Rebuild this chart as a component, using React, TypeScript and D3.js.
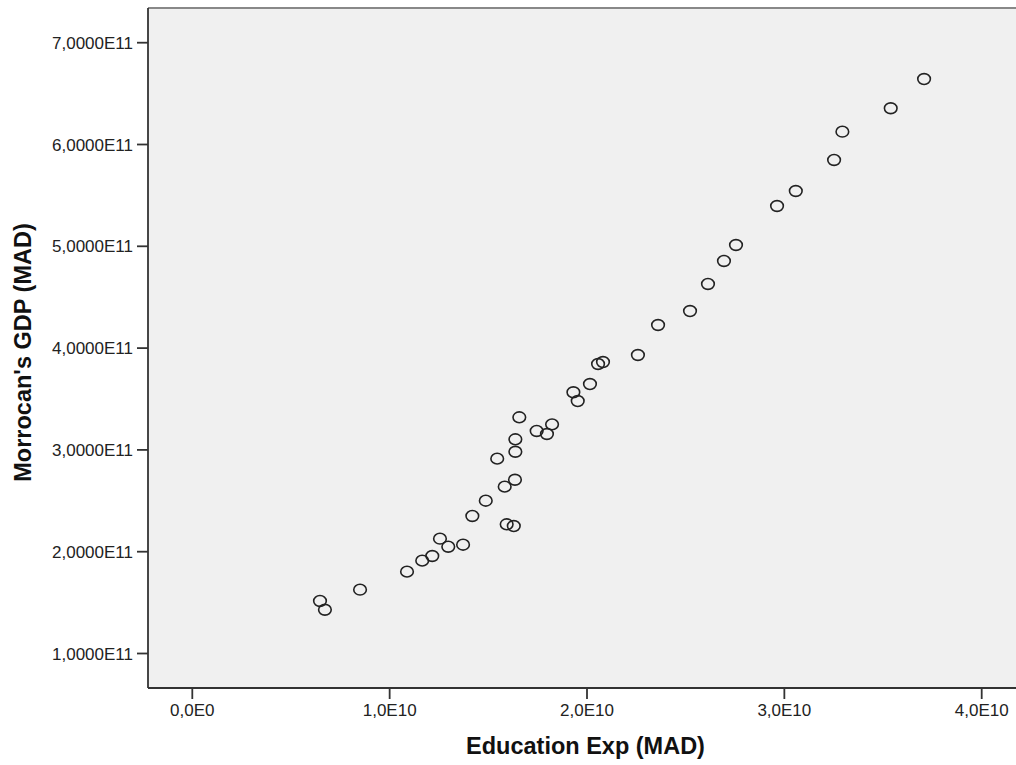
import React from "react";
import * as d3 from "d3";

const eduExp: number[] = [
  3.708, 3.539, 3.294, 3.252, 3.058, 2.963, 2.755, 2.694, 2.613, 2.522,
  2.360, 2.258, 2.081, 2.056, 2.015, 1.931, 1.953, 1.657, 1.823, 1.745,
  1.797, 1.637, 1.637, 1.545, 1.635, 1.583, 1.487, 1.419, 1.593, 1.629,
  1.255, 1.297, 1.372, 1.216, 1.165, 1.088, 0.850, 0.647, 0.672,
].map((v) => v * 1e10);

const gdp: number[] = [
  6.643, 6.356, 6.126, 5.848, 5.543, 5.396, 5.013, 4.856, 4.630, 4.364,
  4.227, 3.932, 3.863, 3.844, 3.647, 3.566, 3.480, 3.320, 3.251, 3.186,
  3.156, 3.104, 2.982, 2.914, 2.707, 2.639, 2.501, 2.351, 2.269, 2.252,
  2.128, 2.049, 2.069, 1.958, 1.912, 1.804, 1.627, 1.516, 1.430,
].map((v) => v * 1e11);

const xTicks: number[] = [0, 1e10, 2e10, 3e10, 4e10];
const xTickLabels: string[] = ["0,0E0", "1,0E10", "2,0E10", "3,0E10", "4,0E10"];
const yTicks: number[] = [1e11, 2e11, 3e11, 4e11, 5e11, 6e11, 7e11];
const yTickLabels: string[] = [
  "1,0000E11", "2,0000E11", "3,0000E11", "4,0000E11", "5,0000E11", "6,0000E11", "7,0000E11",
];

const xTitle = "Education Exp (MAD)";
const yTitle = "Morrocan's GDP (MAD)";

export default function App() {
  const W = 1016;
  const H = 765;
  const left = 148;
  const top = 8;
  const bottom = 688;
  const right = 1020;

  const x = d3.scaleLinear().domain([0, 4e10]).range([192.3, 981.7]);
  const y = d3.scaleLinear().domain([1e11, 7e11]).range([653.5, 42.7]);

  const font = "Arial, 'Liberation Sans', sans-serif";

  return (
    <svg
      width={W}
      height={H}
      style={{ position: "absolute", left: 0, top: 0, background: "#fff" }}
    >
      <rect x={left} y={top} width={right - left} height={bottom - top} fill="#f0f0f0" />
      <line x1={left} x2={right} y1={top} y2={top} stroke="#888" strokeWidth={2} />
      <line x1={left} x2={left} y1={top} y2={bottom} stroke="#333" strokeWidth={1.8} />
      <line x1={left} x2={right} y1={bottom} y2={bottom} stroke="#333" strokeWidth={1.8} />

      {yTicks.map((t, i) => (
        <g key={"y" + i}>
          <line x1={left - 11} x2={left} y1={y(t)} y2={y(t)} stroke="#333" strokeWidth={1.8} />
          <text
            x={left - 15}
            y={y(t)}
            dy="0.36em"
            textAnchor="end"
            fontFamily={font}
            fontSize={17}
            fill="#222"
          >
            {yTickLabels[i]}
          </text>
        </g>
      ))}

      {xTicks.map((t, i) => (
        <g key={"x" + i}>
          <line x1={x(t)} x2={x(t)} y1={bottom} y2={bottom + 11} stroke="#333" strokeWidth={1.8} />
          <text
            x={x(t)}
            y={716}
            textAnchor="middle"
            fontFamily={font}
            fontSize={17}
            fill="#222"
          >
            {xTickLabels[i]}
          </text>
        </g>
      ))}

      {eduExp.map((v, i) => (
        <ellipse
          key={"p" + i}
          cx={x(v)}
          cy={y(gdp[i])}
          rx={6.3}
          ry={5.4}
          fill="none"
          stroke="#222"
          strokeWidth={1.6}
        />
      ))}

      <text
        x={(463 + 708) / 2}
        y={754}
        textAnchor="middle"
        fontFamily={font}
        fontWeight="bold"
        fontSize={23.5}
        fill="#111"
      >
        {xTitle}
      </text>
      <text
        transform={`translate(30.5, ${(222 + 483) / 2}) rotate(-90)`}
        textAnchor="middle"
        fontFamily={font}
        fontWeight="bold"
        fontSize={23.5}
        fill="#111"
      >
        {yTitle}
      </text>
    </svg>
  );
}
